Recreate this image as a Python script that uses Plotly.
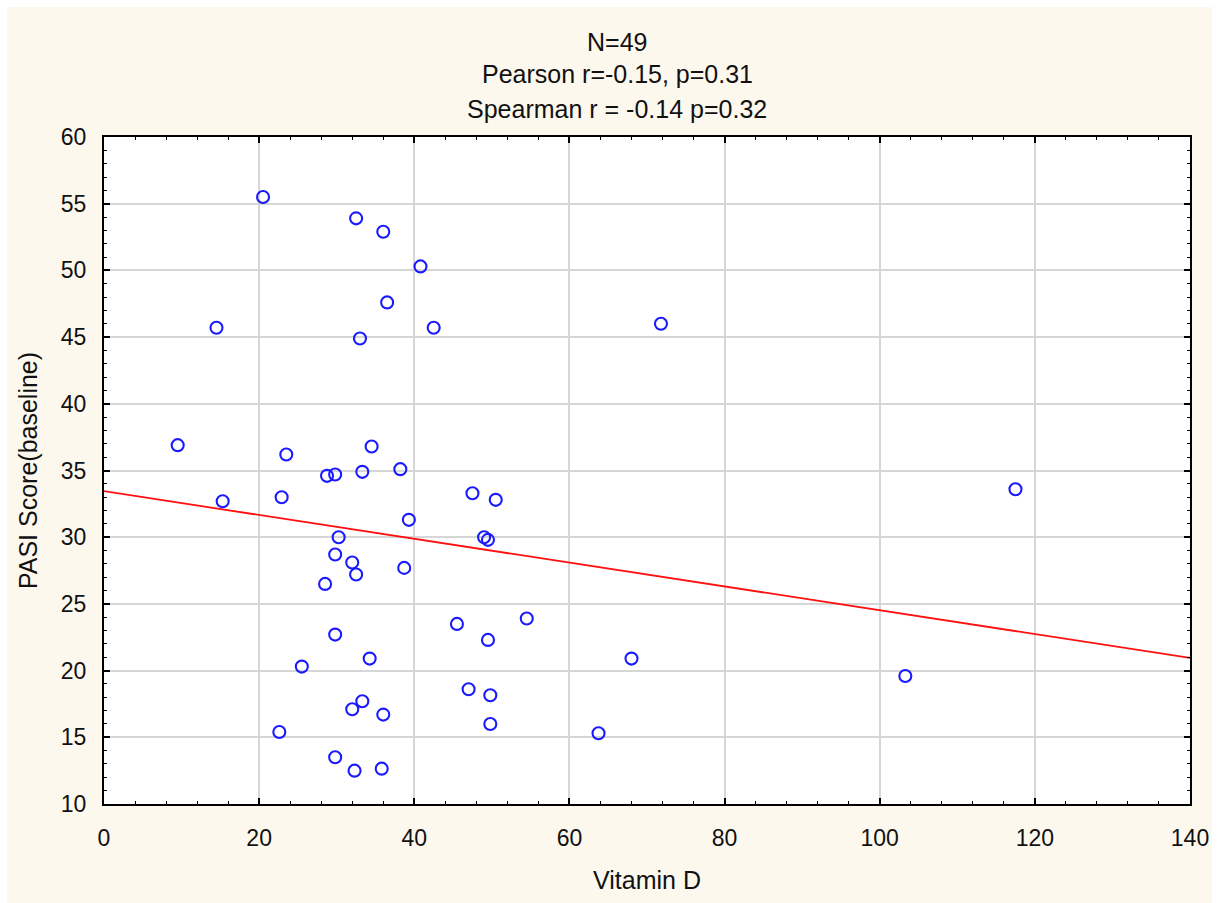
import plotly.graph_objects as go

# Data
vitamin_d = [20.5, 32.5, 36.0, 40.8, 36.5, 14.5, 42.5, 33.0, 71.8,
             9.5, 23.5, 34.5, 38.2, 28.75, 29.8, 33.3, 15.3, 22.9, 47.5, 50.5, 117.5,
             39.3, 30.25, 49.0, 49.5, 29.8, 32.0, 32.5, 38.7, 28.5,
             45.5, 54.5, 29.8, 49.5, 34.25, 25.5, 68.0, 103.3,
             47.0, 49.8, 33.3, 32.0, 36.0, 49.8, 22.6, 63.75, 29.8, 32.3, 35.8]
pasi = [55.5, 53.9, 52.9, 50.3, 47.6, 45.7, 45.7, 44.9, 46.0,
        36.9, 36.2, 36.8, 35.1, 34.6, 34.7, 34.9, 32.7, 33.0, 33.3, 32.8, 33.6,
        31.3, 30.0, 30.0, 29.8, 28.7, 28.1, 27.2, 27.7, 26.5,
        23.5, 23.9, 22.7, 22.3, 20.9, 20.3, 20.9, 19.6,
        18.6, 18.15, 17.7, 17.1, 16.7, 16.0, 15.4, 15.3, 13.5, 12.5, 12.65]

fit_x = [0, 140]
fit_y = [33.45, 20.95]

title_lines = ["N=49", "Pearson r=-0.15, p=0.31", "Spearman r = -0.14 p=0.32"]
x_label = "Vitamin D"
y_label = "PASI Score(baseline)"
x_ticks = [0, 20, 40, 60, 80, 100, 120, 140]
y_ticks = [10, 15, 20, 25, 30, 35, 40, 45, 50, 55, 60]

W, H = 1222, 903
ML, MR, MT, MB = 104, 32, 137, 99
PW, PH = W - ML - MR, H - MT - MB

def px2paper_x(px):
    return (px - ML) / PW

def py2paper_y(py):
    return (H - MB - py) / PH

CREAM = "#FDF8EE"
FONT = "Liberation Sans, Arial, Helvetica, sans-serif"

fig = go.Figure()
fig.add_trace(go.Scatter(
    x=fit_x, y=fit_y, mode="lines",
    line=dict(color="#FF1010", width=1.8),
    hoverinfo="skip", showlegend=False,
))
fig.add_trace(go.Scatter(
    x=vitamin_d, y=pasi, mode="markers",
    marker=dict(symbol="circle-open", size=12, color="#1A1AFF",
                line=dict(width=2.1, color="#1A1AFF")),
    showlegend=False,
))

axis_common = dict(
    showline=True, linecolor="black", linewidth=2.2, mirror="allticks",
    ticks="inside", ticklen=6, tickwidth=1.6, tickcolor="black",
    showgrid=True, gridcolor="#D6D6D6", gridwidth=1.6,
    zeroline=False,
    tickfont=dict(family=FONT, size=23, color="#111111"),
)

fig.update_xaxes(
    range=[0, 140], tickvals=x_ticks, ticktext=[str(v) for v in x_ticks],
    minor=dict(dtick=4, tick0=0, ticks="inside", ticklen=3, tickwidth=1.3,
               tickcolor="black", showgrid=False),
    title=dict(text=x_label, font=dict(family=FONT, size=25, color="#111111"),
               standoff=22),
    ticklabelstandoff=12,
    **axis_common,
)
fig.update_yaxes(
    range=[10, 60], tickvals=y_ticks, ticktext=[str(v) for v in y_ticks],
    minor=dict(dtick=1, tick0=0, ticks="inside", ticklen=3, tickwidth=1.3,
               tickcolor="black", showgrid=False),
    title=dict(text=y_label, font=dict(family=FONT, size=25, color="#111111"),
               standoff=16),
    ticklabelstandoff=11,
    **axis_common,
)

annotations = []
for text, py in zip(title_lines, [42, 74, 109]):
    annotations.append(dict(
        text=text, x=px2paper_x(617), y=py2paper_y(py), xref="paper", yref="paper",
        xanchor="center", yanchor="middle", showarrow=False,
        font=dict(family=FONT, size=25, color="#111111"),
    ))

shapes = [
    # white outer border strips
    dict(type="rect", xref="paper", yref="paper", layer="above",
         x0=px2paper_x(0), x1=px2paper_x(W), y0=py2paper_y(0), y1=py2paper_y(7),
         fillcolor="white", line=dict(width=0)),
    dict(type="rect", xref="paper", yref="paper", layer="above",
         x0=px2paper_x(0), x1=px2paper_x(7), y0=py2paper_y(0), y1=py2paper_y(H),
         fillcolor="white", line=dict(width=0)),
    dict(type="rect", xref="paper", yref="paper", layer="above",
         x0=px2paper_x(1212), x1=px2paper_x(W), y0=py2paper_y(0), y1=py2paper_y(H),
         fillcolor="white", line=dict(width=0)),
]

fig.update_layout(
    width=W, height=H,
    margin=dict(l=ML, r=MR, t=MT, b=MB),
    paper_bgcolor=CREAM, plot_bgcolor="white",
    annotations=annotations, shapes=shapes,
    showlegend=False,
    font=dict(family=FONT),
)

fig.write_html("out.html")
